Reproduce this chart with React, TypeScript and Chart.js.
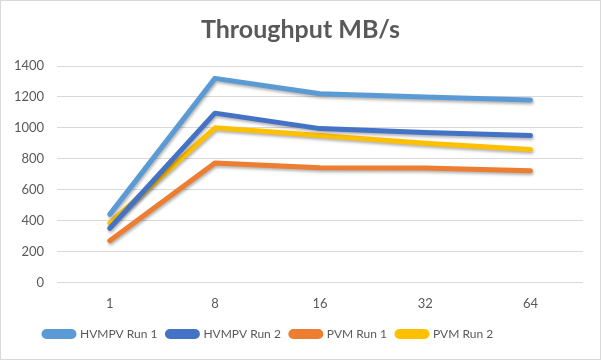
import React, { useEffect, useRef } from "react";
import { Chart, registerables } from "chart.js";

Chart.register(...registerables);

const categories = ["1", "8", "16", "32", "64"];
const hvmpvRun1 = [440, 1320, 1220, 1200, 1180];
const hvmpvRun2 = [350, 1095, 995, 970, 950];
const pvmRun1 = [270, 772, 742, 740, 723];
const pvmRun2 = [384, 1000, 950, 900, 860];
const seriesNames = ["HVMPV Run 1", "HVMPV Run 2", "PVM Run 1", "PVM Run 2"];
const seriesColors = ["#5B9BD5", "#4472C4", "#ED7D31", "#FFC000"];

const shadowPlugin = {
  id: "lineShadow",
  afterLayout(chart: any) {
    if (chart.titleBlock) {
      chart.titleBlock.left = 0;
      chart.titleBlock.right = chart.width;
    }
    if (chart.legend) {
      chart.legend.left = 33;
    }
  },
  beforeDatasetsDraw(chart: any) {
    const ctx = chart.ctx;
    ctx.save();
    ctx.shadowColor = "rgba(0,0,0,0.3)";
    ctx.shadowBlur = 3;
    ctx.shadowOffsetX = 1;
    ctx.shadowOffsetY = 2;
  },
  afterDatasetsDraw(chart: any) {
    chart.ctx.restore();
  },
};

export default function App() {
  const ref = useRef<HTMLCanvasElement>(null);
  useEffect(() => {
    document.body.style.margin = "0";
    const values = [hvmpvRun1, hvmpvRun2, pvmRun1, pvmRun2];
    const chart = new Chart(ref.current!, {
      type: "line",
      data: {
        labels: categories,
        datasets: values.map((v, i) => ({
          label: seriesNames[i],
          data: v,
          borderColor: seriesColors[i],
          backgroundColor: seriesColors[i],
          borderWidth: 5,
          pointRadius: 0,
          borderCapStyle: "round",
          borderJoinStyle: "round",
          tension: 0,
        })),
      },
      options: {
        animation: false,
        responsive: false,
        layout: { padding: { left: 0, right: 17, top: 10, bottom: 9 } },
        plugins: {
          title: {
            display: true,
            text: "Throughput MB/s",
            color: "#595959",
            font: { family: "Lato", size: 25, weight: "bold" },
            padding: { top: 4, bottom: 21 },
          },
          legend: {
            position: "bottom",
            align: "start",
            labels: {
              color: "#595959",
              font: { family: "Lato", size: 12 },
              boxWidth: 30,
              boxHeight: 5,
              useBorderRadius: true,
              borderRadius: 2.5,
              padding: 10,
            },
          },
          tooltip: { enabled: false },
        },
        scales: {
          x: {
            offset: true,
            grid: { display: false },
            border: { display: false },
            ticks: { color: "#595959", font: { family: "Lato", size: 13 }, padding: 6 },
          },
          y: {
            min: 0,
            max: 1400,
            ticks: {
              stepSize: 200,
              color: "#595959",
              font: { family: "Lato", size: 13 },
              padding: 13,
              callback: (v: any) => String(v),
            },
            grid: { color: "#d9d9d9", drawTicks: false },
            border: { display: false },
          },
        },
      },
      plugins: [shadowPlugin],
    });
    return () => chart.destroy();
  }, []);
  return (
    <div style={{ position: "relative", width: 601, height: 360, boxSizing: "border-box", border: "1px solid #d9d9d9", background: "#fff" }}>
      <canvas ref={ref} width={599} height={358} style={{ display: "block" }} />
    </div>
  );
}
